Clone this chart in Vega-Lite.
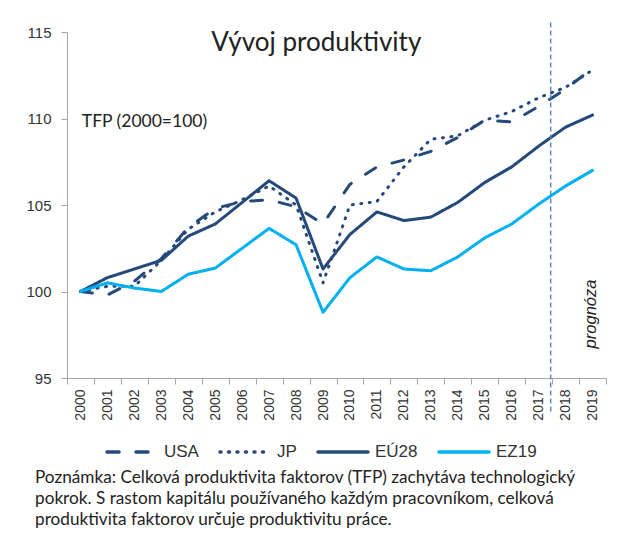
{
  "$schema": "https://vega.github.io/schema/vega-lite/v6.json",
  "autosize": {"type": "none"},
  "width": 539,
  "height": 346,
  "padding": {"left": 67, "top": 32, "right": 19, "bottom": 162},
  "background": "white",
  "config": {"view": {"stroke": null}},
  "title": {
    "text": ["Poznámka: Celková produktivita faktorov (TFP) zachytáva technologický", "pokrok. S rastom kapitálu používaného každým pracovníkom, celková", "produktivita faktorov určuje produktivitu práce."],
    "orient": "bottom", "anchor": "start", "frame": "group", "dx": -32, "offset": 9,
    "font": "Lato", "fontSize": 17.2, "fontWeight": "normal", "lineHeight": 21, "color": "#222222", "baseline": "top"
  },
  "datasets": {
    "tfp": [
      {"year": "2000", "series": "USA", "value": 100}, {"year": "2001", "series": "USA", "value": 99.8}, {"year": "2002", "series": "USA", "value": 100.6}, {"year": "2003", "series": "USA", "value": 101.9}, {"year": "2004", "series": "USA", "value": 103.7}, {"year": "2005", "series": "USA", "value": 104.8}, {"year": "2006", "series": "USA", "value": 105.2}, {"year": "2007", "series": "USA", "value": 105.3}, {"year": "2008", "series": "USA", "value": 104.9}, {"year": "2009", "series": "USA", "value": 103.9}, {"year": "2010", "series": "USA", "value": 106.2}, {"year": "2011", "series": "USA", "value": 107.2}, {"year": "2012", "series": "USA", "value": 107.6}, {"year": "2013", "series": "USA", "value": 108.1}, {"year": "2014", "series": "USA", "value": 108.9}, {"year": "2015", "series": "USA", "value": 109.9}, {"year": "2016", "series": "USA", "value": 109.8}, {"year": "2017", "series": "USA", "value": 110.7}, {"year": "2018", "series": "USA", "value": 111.7}, {"year": "2019", "series": "USA", "value": 112.9},
      {"year": "2000", "series": "JP", "value": 100}, {"year": "2001", "series": "JP", "value": 100.3}, {"year": "2002", "series": "JP", "value": 100.3}, {"year": "2003", "series": "JP", "value": 101.8}, {"year": "2004", "series": "JP", "value": 103.6}, {"year": "2005", "series": "JP", "value": 104.6}, {"year": "2006", "series": "JP", "value": 105.3}, {"year": "2007", "series": "JP", "value": 106.1}, {"year": "2008", "series": "JP", "value": 105.0}, {"year": "2009", "series": "JP", "value": 100.5}, {"year": "2010", "series": "JP", "value": 105.0}, {"year": "2011", "series": "JP", "value": 105.2}, {"year": "2012", "series": "JP", "value": 107.2}, {"year": "2013", "series": "JP", "value": 108.8}, {"year": "2014", "series": "JP", "value": 109.0}, {"year": "2015", "series": "JP", "value": 109.9}, {"year": "2016", "series": "JP", "value": 110.4}, {"year": "2017", "series": "JP", "value": 111.2}, {"year": "2018", "series": "JP", "value": 111.8}, {"year": "2019", "series": "JP", "value": 112.8},
      {"year": "2000", "series": "EÚ28", "value": 100}, {"year": "2001", "series": "EÚ28", "value": 100.8}, {"year": "2002", "series": "EÚ28", "value": 101.3}, {"year": "2003", "series": "EÚ28", "value": 101.8}, {"year": "2004", "series": "EÚ28", "value": 103.2}, {"year": "2005", "series": "EÚ28", "value": 103.9}, {"year": "2006", "series": "EÚ28", "value": 105.15}, {"year": "2007", "series": "EÚ28", "value": 106.4}, {"year": "2008", "series": "EÚ28", "value": 105.4}, {"year": "2009", "series": "EÚ28", "value": 101.3}, {"year": "2010", "series": "EÚ28", "value": 103.3}, {"year": "2011", "series": "EÚ28", "value": 104.6}, {"year": "2012", "series": "EÚ28", "value": 104.1}, {"year": "2013", "series": "EÚ28", "value": 104.3}, {"year": "2014", "series": "EÚ28", "value": 105.15}, {"year": "2015", "series": "EÚ28", "value": 106.3}, {"year": "2016", "series": "EÚ28", "value": 107.2}, {"year": "2017", "series": "EÚ28", "value": 108.4}, {"year": "2018", "series": "EÚ28", "value": 109.5}, {"year": "2019", "series": "EÚ28", "value": 110.2},
      {"year": "2000", "series": "EZ19", "value": 100}, {"year": "2001", "series": "EZ19", "value": 100.5}, {"year": "2002", "series": "EZ19", "value": 100.2}, {"year": "2003", "series": "EZ19", "value": 100.0}, {"year": "2004", "series": "EZ19", "value": 101.0}, {"year": "2005", "series": "EZ19", "value": 101.35}, {"year": "2006", "series": "EZ19", "value": 102.5}, {"year": "2007", "series": "EZ19", "value": 103.65}, {"year": "2008", "series": "EZ19", "value": 102.7}, {"year": "2009", "series": "EZ19", "value": 98.8}, {"year": "2010", "series": "EZ19", "value": 100.8}, {"year": "2011", "series": "EZ19", "value": 102.0}, {"year": "2012", "series": "EZ19", "value": 101.3}, {"year": "2013", "series": "EZ19", "value": 101.2}, {"year": "2014", "series": "EZ19", "value": 102.0}, {"year": "2015", "series": "EZ19", "value": 103.1}, {"year": "2016", "series": "EZ19", "value": 103.9}, {"year": "2017", "series": "EZ19", "value": 105.05}, {"year": "2018", "series": "EZ19", "value": 106.1}, {"year": "2019", "series": "EZ19", "value": 107.0}
    ]
  },
  "layer": [
    {
      "data": {"name": "tfp"},
      "mark": {"type": "line", "strokeWidth": 3, "strokeCap": "round", "strokeJoin": "round"},
      "encoding": {
        "x": {
          "field": "year", "type": "ordinal", "bandPosition": 0.5,
          "scale": {"type": "band", "paddingInner": 0, "paddingOuter": 0},
          "axis": {"title": null, "labelAngle": 270, "tickBand": "extent", "tickSize": 6, "labelPadding": 5,
                   "labelFont": "Liberation Sans", "labelFontSize": 14, "labelColor": "#333333",
                   "domainColor": "#A6A6A6", "tickColor": "#A6A6A6", "grid": false}
        },
        "y": {
          "field": "value", "type": "quantitative",
          "scale": {"domain": [95, 115], "nice": false, "zero": false},
          "axis": {"title": null, "values": [95, 100, 105, 110, 115], "tickSize": 6, "labelPadding": 10,
                   "labelFont": "Liberation Sans", "labelFontSize": 15, "labelColor": "#333333",
                   "domainColor": "#A6A6A6", "tickColor": "#A6A6A6", "grid": false}
        },
        "color": {
          "field": "series", "type": "nominal",
          "scale": {"domain": ["USA", "JP", "EÚ28", "EZ19"], "range": ["#24497A", "#24497A", "#24497A", "#00B0F0"]},
          "legend": {
            "title": null, "orient": "none", "direction": "horizontal", "legendX": 38, "legendY": 393,
            "symbolType": "stroke", "symbolSize": 2500, "symbolStrokeWidth": 3.5,
            "labelFont": "Liberation Sans", "labelFontSize": 17, "labelColor": "#333333", "labelOffset": 5,
            "columnPadding": 14,
            "encode": {"symbols": {"update": {"strokeCap": {"value": "round"}}}}
          }
        },
        "strokeDash": {
          "field": "series", "type": "nominal",
          "scale": {"domain": ["USA", "JP", "EÚ28", "EZ19"], "range": [[12, 17], [1, 7.5], [1, 0], [1, 0]]},
          "legend": null
        }
      }
    },
    {
      "data": {"values": [{"note": "forecast"}]},
      "mark": {"type": "rule", "color": "#4A7EC7", "strokeWidth": 1.3, "strokeDash": [5, 3]},
      "encoding": {
        "x": {"datum": "2017", "type": "ordinal", "bandPosition": 0.95},
        "y": {"datum": 115.55, "type": "quantitative"},
        "y2": {"datum": 92.95}
      }
    },
    {
      "data": {"values": [{"label": "Vývoj produktivity"}]},
      "mark": {"type": "text", "font": "Lato", "fontSize": 26, "color": "#222222", "align": "center", "baseline": "alphabetic"},
      "encoding": {
        "x": {"datum": "2009", "type": "ordinal", "bandPosition": 0.25},
        "y": {"datum": 113.9, "type": "quantitative"},
        "text": {"field": "label"}
      }
    },
    {
      "data": {"values": [{"label": "TFP (2000=100)"}]},
      "mark": {"type": "text", "font": "Lato", "fontSize": 17.5, "color": "#222222", "align": "left", "baseline": "middle"},
      "encoding": {
        "x": {"datum": "2000", "type": "ordinal", "bandPosition": 0.55},
        "y": {"datum": 109.8, "type": "quantitative"},
        "text": {"field": "label"}
      }
    },
    {
      "data": {"values": [{"label": "prognóza"}]},
      "mark": {"type": "text", "font": "Liberation Sans", "fontSize": 16.5, "fontStyle": "italic", "color": "#222222", "align": "center", "baseline": "middle", "angle": 270},
      "encoding": {
        "x": {"datum": "2019", "type": "ordinal", "bandPosition": 0.44},
        "y": {"datum": 98.7, "type": "quantitative"},
        "text": {"field": "label"}
      }
    }
  ]
}
